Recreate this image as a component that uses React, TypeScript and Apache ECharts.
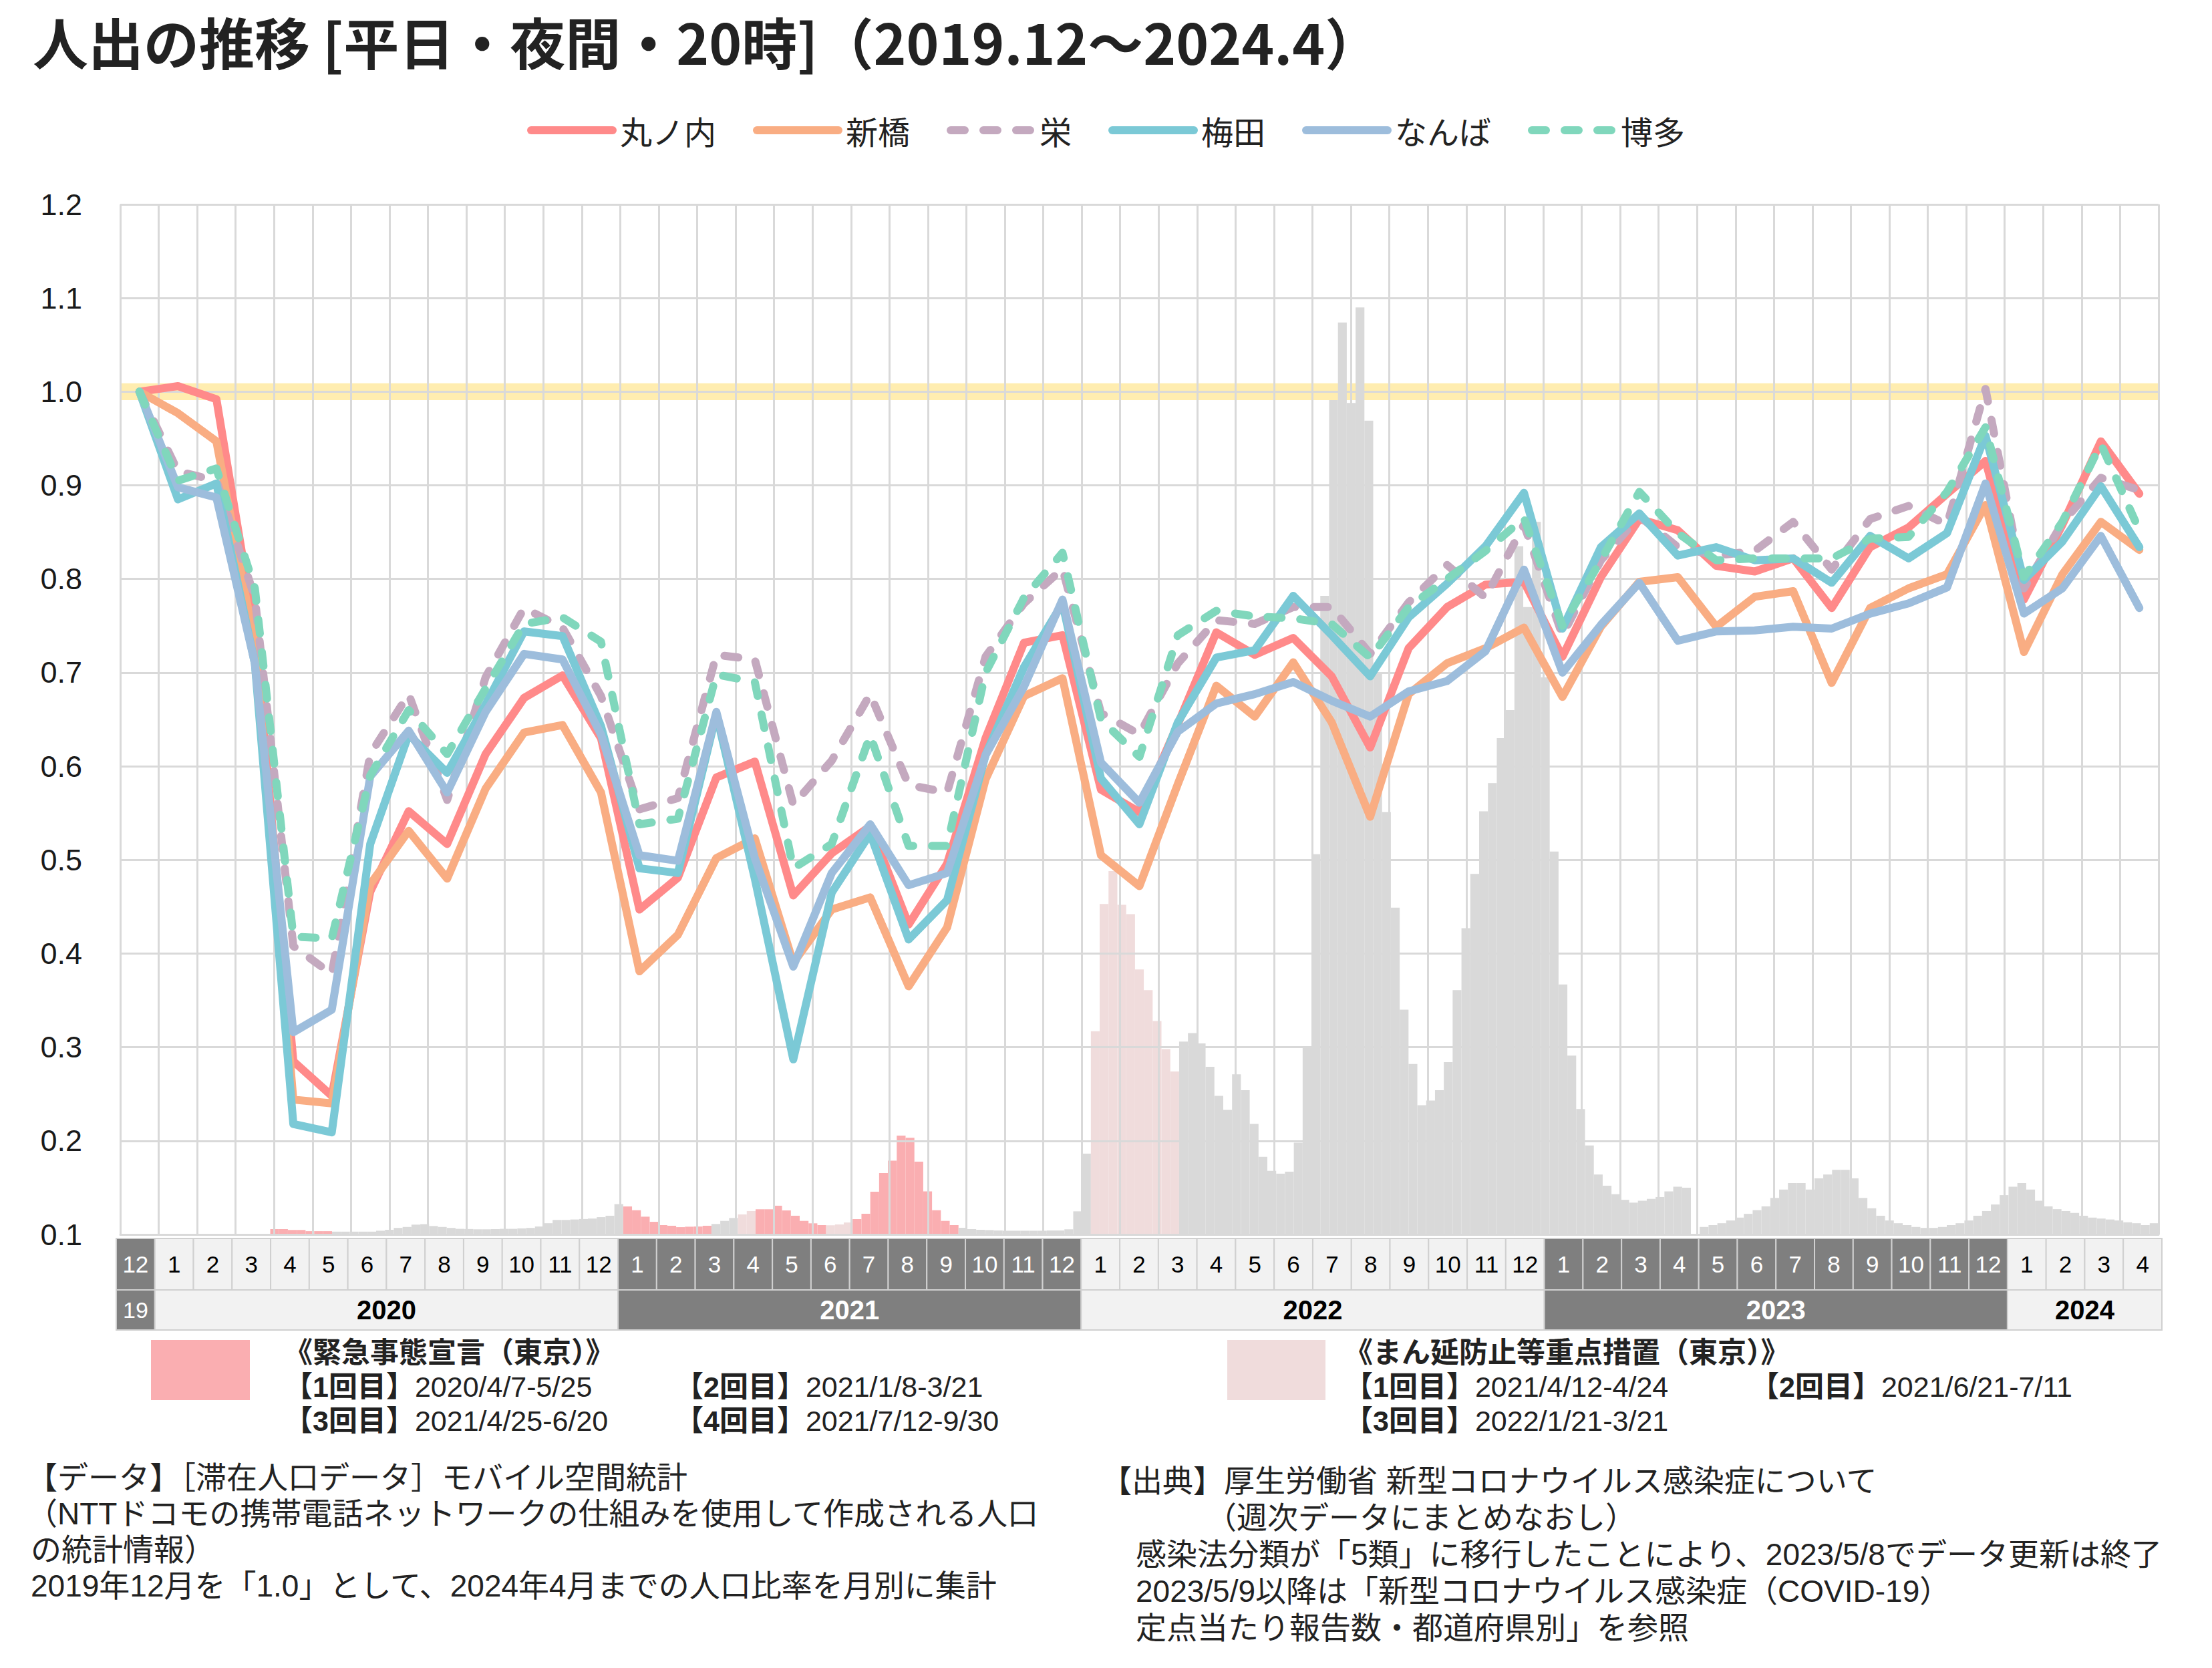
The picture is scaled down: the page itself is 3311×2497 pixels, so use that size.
import React, { useEffect, useRef } from "react";
import * as echarts from "echarts";

// ---- categories -------------------------------------------------------
const monthCategories = [
  "2019-12",
  "2020-01", "2020-02", "2020-03", "2020-04", "2020-05", "2020-06",
  "2020-07", "2020-08", "2020-09", "2020-10", "2020-11", "2020-12",
  "2021-01", "2021-02", "2021-03", "2021-04", "2021-05", "2021-06",
  "2021-07", "2021-08", "2021-09", "2021-10", "2021-11", "2021-12",
  "2022-01", "2022-02", "2022-03", "2022-04", "2022-05", "2022-06",
  "2022-07", "2022-08", "2022-09", "2022-10", "2022-11", "2022-12",
  "2023-01", "2023-02", "2023-03", "2023-04", "2023-05", "2023-06",
  "2023-07", "2023-08", "2023-09", "2023-10", "2023-11", "2023-12",
  "2024-01", "2024-02", "2024-03", "2024-04",
];

const yearLabels: Record<string, string> = {
  "2019": "19",
  "2020": "2020",
  "2021": "2021",
  "2022": "2022",
  "2023": "2023",
  "2024": "2024",
};
const darkYears = ["2019", "2021", "2023"];

// ---- people-flow ratio (Dec 2019 = 1.0) ------------------------------
const marunouchi = [
  1.0, 1.006, 0.992, 0.745, 0.285, 0.248, 0.466, 0.552, 0.517, 0.613, 0.673, 0.697, 0.63,
  0.447, 0.481, 0.588, 0.605, 0.462, 0.507, 0.536, 0.431, 0.496, 0.63, 0.732, 0.74,
  0.575, 0.551, 0.645, 0.743, 0.719, 0.737, 0.696, 0.62, 0.726, 0.77, 0.794, 0.797,
  0.717, 0.802, 0.864, 0.852, 0.814, 0.808, 0.822, 0.769, 0.834, 0.855, 0.891, 0.926,
  0.778, 0.858, 0.947, 0.891,
];
const shimbashi = [
  1.0, 0.977, 0.947, 0.73, 0.244, 0.24, 0.474, 0.531, 0.48, 0.576, 0.636, 0.644, 0.572,
  0.381, 0.42, 0.502, 0.523, 0.39, 0.447, 0.46, 0.365, 0.428, 0.586, 0.675, 0.694,
  0.505, 0.472, 0.581, 0.686, 0.653, 0.711, 0.647, 0.546, 0.677, 0.71, 0.726, 0.748,
  0.674, 0.749, 0.797, 0.802, 0.749, 0.781, 0.787, 0.689, 0.769, 0.79, 0.805, 0.879,
  0.722, 0.805, 0.861, 0.831,
];
const sakae = [
  1.0, 0.915, 0.905, 0.78, 0.408, 0.378, 0.613, 0.677, 0.564, 0.695, 0.769, 0.748, 0.675,
  0.554, 0.566, 0.719, 0.714, 0.559, 0.606, 0.677, 0.58, 0.572, 0.717, 0.774, 0.811,
  0.657, 0.634, 0.71, 0.756, 0.752, 0.77, 0.77, 0.72, 0.775, 0.815, 0.78, 0.858,
  0.74, 0.82, 0.867, 0.834, 0.825, 0.83, 0.861, 0.81, 0.864, 0.878, 0.858, 1.003,
  0.79, 0.86, 0.908, 0.895,
];
const umeda = [
  1.0, 0.885, 0.902, 0.71, 0.218, 0.209, 0.517, 0.634, 0.593, 0.666, 0.744, 0.739, 0.643,
  0.491, 0.486, 0.656, 0.48, 0.287, 0.465, 0.528, 0.415, 0.457, 0.612, 0.706, 0.774,
  0.587, 0.538, 0.647, 0.716, 0.724, 0.782, 0.74, 0.696, 0.759, 0.795, 0.835, 0.892,
  0.747, 0.834, 0.87, 0.825, 0.834, 0.82, 0.822, 0.796, 0.846, 0.822, 0.849, 0.953,
  0.799, 0.84, 0.899, 0.834,
];
const namba = [
  1.0, 0.898, 0.887, 0.71, 0.316, 0.34, 0.589, 0.638, 0.572, 0.658, 0.72, 0.714, 0.634,
  0.505, 0.499, 0.658, 0.502, 0.386, 0.486, 0.538, 0.473, 0.486, 0.612, 0.685, 0.778,
  0.604, 0.561, 0.637, 0.667, 0.677, 0.69, 0.67, 0.653, 0.68, 0.691, 0.723, 0.81,
  0.7, 0.751, 0.796, 0.734, 0.744, 0.745, 0.749, 0.747, 0.763, 0.774, 0.791, 0.902,
  0.763, 0.79, 0.846, 0.769,
];
const hakata = [
  1.0, 0.905, 0.918, 0.79, 0.418, 0.416, 0.59, 0.66, 0.613, 0.683, 0.752, 0.759, 0.733,
  0.538, 0.544, 0.698, 0.69, 0.491, 0.517, 0.633, 0.515, 0.515, 0.7, 0.78, 0.828,
  0.65, 0.61, 0.74, 0.766, 0.76, 0.758, 0.752, 0.716, 0.77, 0.8, 0.83, 0.865,
  0.75, 0.82, 0.893, 0.849, 0.82, 0.822, 0.822, 0.822, 0.843, 0.845, 0.893, 0.962,
  0.802, 0.861, 0.944, 0.852,
];

// ---- weekly infections, relative scale (background columns) ----------
const weeklyCases = [
  // 2019-12 .. 2020-03
  0, 0, 0, 0, 0, 0, 0, 0, 0, 0, 0, 0, 0, 0, 0, 0, 0,
  // 2020-04 ..
  0.0057, 0.0057, 0.0048, 0.0048, 0.0035, 0.0035, 0.0035, 0.003, 0.003, 0.003,
  0.003, 0.003, 0.004, 0.005, 0.007, 0.008, 0.0105, 0.011, 0.009, 0.008,
  0.007, 0.006, 0.0058, 0.0055, 0.0055, 0.0057, 0.006, 0.006, 0.0065, 0.007,
  0.0085, 0.012, 0.0155, 0.0155, 0.016, 0.0165, 0.017, 0.0185, 0.02, 0.0324,
  // 2021-01 ..
  0.0299, 0.0259, 0.019, 0.0135, 0.01, 0.0093, 0.0078, 0.0083, 0.0085, 0.0093,
  0.0112, 0.0145, 0.0176, 0.0214, 0.025, 0.0269, 0.0269, 0.0307, 0.0257, 0.02,
  0.0145, 0.0119, 0.01, 0.0098, 0.0107, 0.0128, 0.0164, 0.0221, 0.0457, 0.0657,
  0.0788, 0.1056, 0.1032, 0.0778, 0.046, 0.0259, 0.0145, 0.01, 0.0071, 0.0057,
  0.005, 0.0047, 0.0043, 0.004, 0.004, 0.004, 0.004, 0.004, 0.0043, 0.0043,
  0.0055, 0.0247, 0.0863,
  // 2022-01 ..
  0.217, 0.353, 0.388, 0.352, 0.342, 0.283, 0.261, 0.228, 0.198, 0.174,
  0.206, 0.215, 0.204, 0.179, 0.148, 0.133, 0.171, 0.154, 0.118, 0.083,
  0.068, 0.065, 0.067, 0.098, 0.199, 0.406, 0.682, 0.891, 0.974, 0.888,
  0.99, 0.869, 0.6, 0.451, 0.349, 0.24, 0.182, 0.138, 0.143, 0.154,
  0.184, 0.261, 0.327, 0.385, 0.452, 0.482, 0.53, 0.56, 0.735, 0.67,
  0.761, 0.595, 0.409, 0.267, 0.191, 0.134, 0.095, 0.064, 0.052, 0.043,
  0.037, 0.034, 0.036, 0.038, 0.04, 0.046, 0.051, 0.05, 0,
  // 2023-05 .. (per-sentinel reports)
  0.008, 0.01, 0.012, 0.015, 0.018, 0.022, 0.026, 0.03, 0.039, 0.048,
  0.055, 0.055, 0.048, 0.06, 0.064, 0.069, 0.069, 0.06, 0.039, 0.028,
  0.02, 0.015, 0.012, 0.01, 0.008, 0.007, 0.007, 0.008, 0.01, 0.012,
  0.015, 0.02, 0.025, 0.032, 0.042, 0.051, 0.055, 0.048, 0.036, 0.03,
  0.027, 0.025, 0.023, 0.02, 0.018, 0.017, 0.016, 0.015, 0.013, 0.012,
  0.01, 0.012,
];

// week index ranges of Tokyo measures
const emergencyWeeks = [[17, 23], [57, 66], [72, 79], [83, 94]];
const priorityWeeks = [[70, 71], [80, 82], [110, 119]];

const weekCategories = weeklyCases.map((_, k) => {
  const d = new Date(Date.UTC(2019, 11, 1 + k * 7));
  return d.toISOString().slice(0, 10);
});

// ---- styling ----------------------------------------------------------
const JP = "'Noto Sans CJK JP', 'Noto Sans', sans-serif";
const LAT = "'Liberation Sans', Arial, sans-serif";
// Latin glyphs from Liberation Sans, Japanese glyphs fall back to Noto Sans CJK
const MIX = "'Liberation Sans', 'Noto Sans CJK JP', sans-serif";
const GRID_COLOR = "#D9D9D9";
const DARK_CELL = "#7F7F7F";
const LIGHT_CELL = "#F2F2F2";
const CELL_BORDER = "#D0D0D0";
const BAR_GRAY = "#D9D9D9";
const EMERGENCY = "#FAAEB1";
const PRIORITY = "#F0DCDC";
const BAND = "#FFEDB0";

const lineDefs = [
  { name: "丸ノ内", data: marunouchi, color: "#FF8A8A", dashed: false },
  { name: "新橋", data: shimbashi, color: "#F9AD83", dashed: false },
  { name: "栄", data: sakae, color: "#C4A9BF", dashed: true },
  { name: "梅田", data: umeda, color: "#7BC9D6", dashed: false },
  { name: "なんば", data: namba, color: "#9DBDDC", dashed: false },
  { name: "博多", data: hakata, color: "#80D7BC", dashed: true },
];

const inRanges = (k: number, ranges: number[][]) =>
  ranges.some(([a, b]) => k >= a && k <= b);

const yearSpans = (() => {
  const spans: { year: string; from: number; to: number }[] = [];
  monthCategories.forEach((m, i) => {
    const y = m.slice(0, 4);
    const last = spans[spans.length - 1];
    if (last && last.year === y) last.to = i;
    else spans.push({ year: y, from: i, to: i });
  });
  return spans;
})();

function buildOption(): any {
  const barData = weeklyCases.map((v, k) => ({
    value: v,
    itemStyle: {
      color: inRanges(k, emergencyWeeks)
        ? EMERGENCY
        : inRanges(k, priorityWeeks)
        ? PRIORITY
        : BAR_GRAY,
    },
  }));

  const lineSeries = lineDefs.map((d) => ({
    type: "line",
    name: d.name,
    data: d.data,
    xAxisIndex: 0,
    yAxisIndex: 0,
    symbol: "none",
    showSymbol: false,
    z: 5,
    silent: true,
    lineStyle: {
      color: d.color,
      width: 12,
      type: d.dashed ? [21, 28] : "solid",
      cap: "round",
      join: "round",
    },
    itemStyle: { color: d.color },
  }));

  const monthCells = {
    type: "custom",
    xAxisIndex: 2,
    yAxisIndex: 2,
    silent: true,
    data: monthCategories.map((_, i) => [i, 0]),
    renderItem: (params: any, api: any) => {
      const i = params.dataIndex;
      const c = api.coord([i, 0]);
      const w = api.size([1, 0])[0];
      const cs = params.coordSys;
      const key = monthCategories[i];
      const dark = darkYears.includes(key.slice(0, 4));
      return {
        type: "group",
        children: [
          {
            type: "rect",
            shape: { x: c[0] - w / 2, y: cs.y, width: w, height: cs.height },
            style: { fill: dark ? DARK_CELL : LIGHT_CELL, stroke: CELL_BORDER, lineWidth: 2 },
          },
          {
            type: "text",
            style: {
              text: String(parseInt(key.slice(5), 10)),
              x: c[0],
              y: cs.y + cs.height / 2,
              align: "center",
              verticalAlign: "middle",
              fill: dark ? "#FFFFFF" : "#000000",
              fontSize: 35,
              fontFamily: LAT,
            },
          },
        ],
      };
    },
  };

  const yearCells = {
    type: "custom",
    xAxisIndex: 3,
    yAxisIndex: 3,
    silent: true,
    data: yearSpans.map((s) => [s.from, s.to]),
    renderItem: (params: any, api: any) => {
      const s = yearSpans[params.dataIndex];
      const w = api.size([1, 0])[0];
      const x1 = api.coord([s.from, 0])[0] - w / 2;
      const x2 = api.coord([s.to, 0])[0] + w / 2;
      const cs = params.coordSys;
      const dark = darkYears.includes(s.year);
      return {
        type: "group",
        children: [
          {
            type: "rect",
            shape: { x: x1, y: cs.y, width: x2 - x1, height: cs.height },
            style: { fill: dark ? DARK_CELL : LIGHT_CELL, stroke: CELL_BORDER, lineWidth: 2 },
          },
          {
            type: "text",
            style: {
              text: yearLabels[s.year],
              x: (x1 + x2) / 2,
              y: cs.y + cs.height / 2,
              align: "center",
              verticalAlign: "middle",
              fill: dark ? "#FFFFFF" : "#000000",
              fontSize: s.year === "2019" ? 34 : 40,
              fontWeight: s.year === "2019" ? "normal" : "bold",
              fontFamily: LAT,
            },
          },
        ],
      };
    },
  };

  const periodText = (x: number, y: number, head: string, body: string) => ({
    type: "text",
    x,
    y,
    silent: true,
    style: {
      text: `{b|${head}}{n|${body}}`,
      verticalAlign: "middle",
      rich: {
        b: { fontSize: 43, fontWeight: "bold", fontFamily: MIX, fill: "#222", color: "#222" },
        n: { fontSize: 43, fontFamily: MIX, fill: "#222", color: "#222" },
      },
    },
  });

  const periodTitle = (x: number, y: number, text: string) => ({
    type: "text",
    x,
    y,
    silent: true,
    style: {
      text,
      verticalAlign: "middle",
      fontSize: 43,
      fontWeight: "bold",
      fontFamily: MIX,
      fill: "#222",
    },
  });

  const note = (x: number, y: number, text: string) => ({
    type: "text",
    x,
    y,
    silent: true,
    style: {
      text,
      verticalAlign: "middle",
      fontSize: 46,
      fontFamily: MIX,
      fill: "#222",
    },
  });

  return {
    animation: false,
    backgroundColor: "#FFFFFF",
    title: {
      text: "人出の推移 [平日・夜間・20時]（2019.12～2024.4）",
      left: 44,
      top: 14,
      textStyle: { fontSize: 83, fontWeight: "bold", fontFamily: JP, color: "#222222" },
    },
    legend: {
      data: lineDefs.map((d) => d.name),
      top: 166,
      left: "center",
      itemWidth: 122,
      itemHeight: 14,
      itemGap: 55,
      selectedMode: false,
      lineStyle: { width: "inherit" },
      textStyle: { fontSize: 48, fontFamily: JP, color: "#222222", padding: [0, 0, 0, 6] },
    },
    grid: [
      { left: 180, right: 80, top: 306, bottom: 649 },
      { left: 174, width: 3062, top: 1854, height: 77 },
      { left: 174, width: 3062, top: 1931, height: 60 },
    ],
    xAxis: [
      {
        gridIndex: 0,
        type: "category",
        data: monthCategories,
        boundaryGap: true,
        z: 3,
        axisLabel: { show: false },
        axisTick: { show: false },
        axisLine: { show: true, lineStyle: { color: GRID_COLOR, width: 3 } },
        splitLine: { show: true, interval: 0, lineStyle: { color: GRID_COLOR, width: 3 } },
      },
      { gridIndex: 0, type: "category", data: weekCategories, show: false, boundaryGap: true },
      { gridIndex: 1, type: "category", data: monthCategories, show: false, boundaryGap: true },
      { gridIndex: 2, type: "category", data: monthCategories, show: false, boundaryGap: true },
    ],
    yAxis: [
      {
        gridIndex: 0,
        type: "value",
        min: 0.1,
        max: 1.2,
        interval: 0.1,
        z: 3,
        axisLine: { show: false },
        axisTick: { show: false },
        axisLabel: {
          fontSize: 45,
          fontFamily: LAT,
          color: "#1A1A1A",
          margin: 57,
          formatter: (v: number) => v.toFixed(1),
        },
        splitLine: { show: true, lineStyle: { color: GRID_COLOR, width: 3 } },
      },
      { gridIndex: 0, type: "value", min: 0, max: 1.1, show: false, splitLine: { show: false } },
      { gridIndex: 1, type: "value", min: 0, max: 1, show: false },
      { gridIndex: 2, type: "value", min: 0, max: 1, show: false },
    ],
    series: [
      {
        type: "bar",
        name: "週次感染者",
        xAxisIndex: 1,
        yAxisIndex: 1,
        data: barData,
        barCategoryGap: "0%",
        barGap: "0%",
        z: 1,
        silent: true,
      },
      {
        type: "line",
        name: "基準",
        xAxisIndex: 0,
        yAxisIndex: 0,
        data: monthCategories.map(() => null),
        symbol: "none",
        z: 2,
        silent: true,
        markArea: {
          silent: true,
          itemStyle: { color: BAND },
          data: [[{ yAxis: 0.991 }, { yAxis: 1.009 }]],
        },
      },
      ...lineSeries,
      monthCells,
      yearCells,
    ],
    graphic: [
      { type: "rect", x: 226, y: 2006, silent: true, shape: { width: 148, height: 90 }, style: { fill: EMERGENCY } },
      periodTitle(425, 2025, "《緊急事態宣言（東京）》"),
      periodText(425, 2076, "【1回目】", "2020/4/7-5/25"),
      periodText(1010, 2076, "【2回目】", "2021/1/8-3/21"),
      periodText(425, 2127, "【3回目】", "2021/4/25-6/20"),
      periodText(1010, 2127, "【4回目】", "2021/7/12-9/30"),

      { type: "rect", x: 1837, y: 2006, silent: true, shape: { width: 147, height: 90 }, style: { fill: PRIORITY } },
      periodTitle(2012, 2025, "《まん延防止等重点措置（東京）》"),
      periodText(2012, 2076, "【1回目】", "2021/4/12-4/24"),
      periodText(2620, 2076, "【2回目】", "2021/6/21-7/11"),
      periodText(2012, 2127, "【3回目】", "2022/1/21-3/21"),

      note(40, 2212, "【データ】［滞在人口データ］モバイル空間統計"),
      note(40, 2266, "（NTTドコモの携帯電話ネットワークの仕組みを使用して作成される人口"),
      note(46, 2320, "の統計情報）"),
      note(46, 2374, "2019年12月を「1.0」として、2024年4月までの人口比率を月別に集計"),

      note(1648, 2217, "【出典】厚生労働省 新型コロナウイルス感染症について"),
      note(1805, 2272, "（週次データにまとめなおし）"),
      note(1700, 2327, "感染法分類が「5類」に移行したことにより、2023/5/8でデータ更新は終了"),
      note(1700, 2382, "2023/5/9以降は「新型コロナウイルス感染症（COVID-19）"),
      note(1700, 2437, "定点当たり報告数・都道府県別」を参照"),
    ],
  };
}

export default function App() {
  const ref = useRef<HTMLDivElement>(null);
  useEffect(() => {
    if (!ref.current) return;
    const chart = echarts.init(ref.current, null, { renderer: "svg" });
    chart.setOption(buildOption());
    return () => chart.dispose();
  }, []);
  return (
    <div
      ref={ref}
      style={{ position: "absolute", left: 0, top: 0, width: 3311, height: 2497, background: "#FFFFFF" }}
    />
  );
}
